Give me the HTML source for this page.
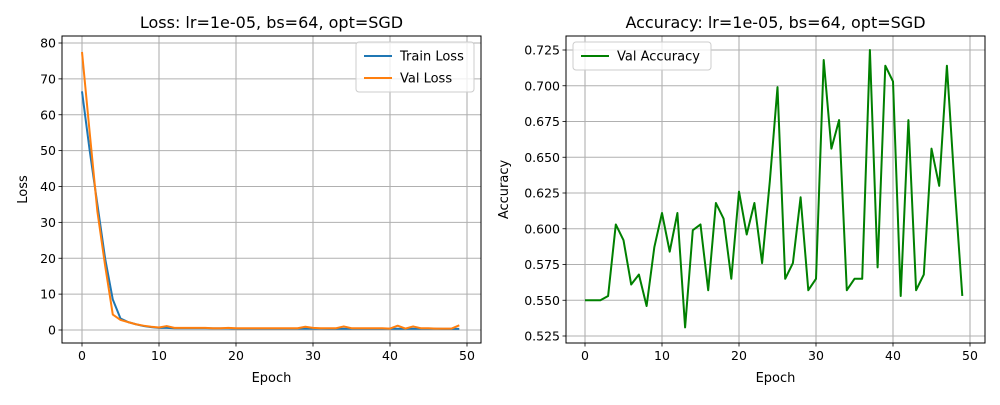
<!DOCTYPE html>
<html><head><meta charset="utf-8"><style>
body{margin:0;background:#fff;font-family:"Liberation Sans","DejaVu Sans",sans-serif}
svg text{font-family:"DejaVu Sans","Liberation Sans",sans-serif}
</style></head><body>
<svg id="c" width="1000" height="400" xmlns="http://www.w3.org/2000/svg"></svg>
<script>
const epochs = Array.from({length:50},(_,i)=>i);
const trainLoss = [66.5,50,35,20,8.5,3.2,2.2,1.6,1.1,0.8,0.6,0.6,0.5,0.5,0.5,0.5,0.5,0.45,0.45,0.45,0.4,0.4,0.4,0.4,0.4,0.4,0.4,0.4,0.4,0.4,0.4,0.4,0.35,0.35,0.35,0.35,0.35,0.35,0.35,0.35,0.35,0.35,0.35,0.35,0.35,0.35,0.35,0.3,0.3,0.3];
const valLoss = [77.5,55,33,18,4.3,2.8,2.2,1.6,1.2,0.9,0.7,1.1,0.6,0.6,0.6,0.6,0.6,0.5,0.5,0.6,0.5,0.5,0.5,0.5,0.5,0.5,0.5,0.5,0.5,0.9,0.6,0.5,0.5,0.5,1.0,0.5,0.5,0.5,0.5,0.5,0.4,1.2,0.4,1.0,0.5,0.5,0.4,0.4,0.4,1.3];
const valAcc = [.550,.550,.550,.553,.603,.592,.561,.568,.546,.587,.611,.584,.611,.531,.599,.603,.557,.618,.607,.565,.626,.596,.618,.576,.633,.699,.565,.576,.622,.557,.565,.718,.656,.676,.557,.565,.565,.725,.573,.714,.703,.553,.676,.557,.568,.656,.630,.714,.630,.553];
const xTicks = [0,10,20,30,40,50];
const lossTicks = [0,10,20,30,40,50,60,70,80];
const accTicks = [0.525,0.550,0.575,0.600,0.625,0.650,0.675,0.700,0.725];
const NS="http://www.w3.org/2000/svg";
const svg=document.getElementById('c');
function mk(tag,at,parent){const e=document.createElementNS(NS,tag);for(const k in at)e.setAttribute(k,at[k]);(parent||svg).appendChild(e);return e;}
function panel(o){
  const g=mk('g',{});
  
  
  const sx=v=>o.x0+(v-o.xmin)*(o.x1-o.x0)/(o.xmax-o.xmin);
  const sy=v=>o.y0+(v-o.ymin)*(o.y1-o.y0)/(o.ymax-o.ymin);
  xTicks.forEach(t=>{const x=sx(t);
    const l=mk('line',{x1:x,x2:x,y1:o.top,y2:o.bot,stroke:'#b0b0b0','stroke-width':1.1},g);
    
    mk('line',{x1:x,x2:x,y1:o.bot,y2:o.bot+3.5,stroke:'#000','stroke-width':0.8},g);
    const tx=mk('text',{x:x,y:o.bot+17,'font-size':12.5,'text-anchor':'middle'},g);tx.textContent=t;
    });
  o.yt.forEach(t=>{const y=sy(t);
    const l=mk('line',{x1:o.left,x2:o.right,y1:y,y2:y,stroke:'#b0b0b0','stroke-width':1.1},g);
    
    mk('line',{x1:o.left-3.5,x2:o.left,y1:y,y2:y,stroke:'#000','stroke-width':0.8},g);
    const tx=mk('text',{x:o.left-6,y:y+4.5,'font-size':12.5,'text-anchor':'end'},g);tx.textContent=o.fmt(t);
    });
  o.series.forEach(s=>{
    const p=mk('polyline',{points:epochs.map((e,i)=>sx(e)+','+sy(s.v[i])).join(' '),fill:'none',stroke:s.c,'stroke-width':2,'stroke-linejoin':'round'},g);
    });
  const fr=mk('rect',{x:o.left,y:o.top,width:o.right-o.left,height:o.bot-o.top,fill:'none',stroke:'#000','stroke-width':1},g);
  
  const ti=mk('text',{x:(o.left+o.right)/2,y:o.top-8,'font-size':16,'text-anchor':'middle'},g);ti.textContent=o.title;
  
  const xl=mk('text',{x:(o.left+o.right)/2,y:382,'font-size':13,'text-anchor':'middle'},g);xl.textContent='Epoch';
  
  const yl=mk('text',{x:0,y:0,'font-size':13,'text-anchor':'middle',transform:`translate(${o.ylx},${(o.top+o.bot)/2}) rotate(-90)`},g);yl.textContent=o.ylabel;
  
  const lg=mk('g',{},g);
  mk('rect',{x:o.lg.x,y:o.lg.y,width:o.lg.w,height:o.series.length*22+6,rx:3,fill:'#fff','fill-opacity':0.8,stroke:'#ccc'},lg);
  o.series.forEach((s,i)=>{const yy=o.lg.y+14+i*22;
    mk('line',{x1:o.lg.x+8,x2:o.lg.x+36,y1:yy,y2:yy,stroke:s.c,'stroke-width':2},lg);
    const t=mk('text',{x:o.lg.x+44,y:yy+4.5,'font-size':13},lg);t.textContent=s.label;
    });
}
panel({name:'loss-chart',left:62,right:481,top:36,bot:343,x0:82,x1:467,xmin:0,xmax:50,y0:330,y1:43,ymin:0,ymax:80,yt:lossTicks,fmt:t=>t,
  title:'Loss: lr=1e-05, bs=64, opt=SGD',ylabel:'Loss',ylx:27,lg:{x:356,y:42,w:118},
  series:[{n:'train-loss-line',label:'Train Loss',c:'#1f77b4',v:trainLoss},{n:'val-loss-line',label:'Val Loss',c:'#ff7f0e',v:valLoss}]});
panel({name:'accuracy-chart',left:566,right:985,top:36,bot:343,x0:585,x1:970,xmin:0,xmax:50,y0:336,y1:50,ymin:0.525,ymax:0.725,yt:accTicks,fmt:t=>t.toFixed(3),
  title:'Accuracy: lr=1e-05, bs=64, opt=SGD',ylabel:'Accuracy',ylx:508,lg:{x:573,y:42,w:138},
  series:[{n:'val-accuracy-line',label:'Val Accuracy',c:'#008000',v:valAcc}]});
</script>
</body></html>
